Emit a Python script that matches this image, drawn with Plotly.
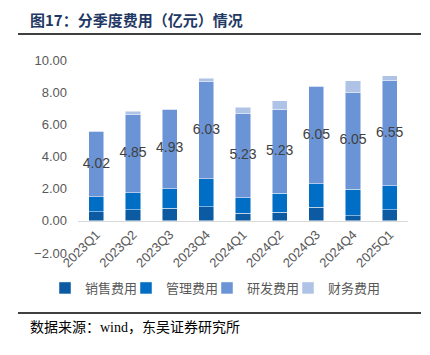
import plotly.graph_objects as go

quarters = ["2023Q1", "2023Q2", "2023Q3", "2023Q4", "2024Q1", "2024Q2", "2024Q3", "2024Q4", "2025Q1"]
sales = [0.58, 0.70, 0.79, 0.89, 0.48, 0.54, 0.85, 0.31, 0.70]
admin = [0.93, 1.06, 1.22, 1.74, 0.97, 1.18, 1.45, 1.64, 1.47]
rnd = [4.02, 4.85, 4.93, 6.03, 5.23, 5.23, 6.05, 6.05, 6.55]
finance = [0.08, 0.20, 0.03, 0.22, 0.37, 0.52, 0.04, 0.70, 0.31]
y_ticks = [-2, 0, 2, 4, 6, 8, 10]

names = ["销售费用", "管理费用", "研发费用", "财务费用"]
colors = ["#0B5AA2", "#006EC4", "#6B94D6", "#AEC3E6"]

W, H = 430, 355
ml, mr, mt, mb = 78, 22, 60, 102
ph = H - mt - mb
pw = W - ml - mr

def py(pix):
    return (H - mb - pix) / ph

def px(pix):
    return (pix - ml) / pw

fig = go.Figure()
for name, vals, c in zip(names, [sales, admin, rnd, finance], colors):
    fig.add_trace(go.Bar(
        x=quarters, y=vals, name=name,
        marker=dict(color=c, line=dict(color="rgba(255,255,255,0.6)", width=0.8)),
        hoverinfo="skip",
    ))

label_y = [s + a + r / 2 for s, a, r in zip(sales, admin, rnd)]
fig.add_trace(go.Scatter(
    x=quarters, y=label_y, mode="text",
    text=[f"{v:.2f}" for v in rnd],
    textfont=dict(family="Liberation Sans, Arial", size=14, color="#404040"),
    showlegend=False, hoverinfo="skip",
))

# invisible spacer legend entry so the last legend label is not clipped
fig.add_trace(go.Scatter(
    x=[None], y=[None], mode="markers", name=" ",
    marker=dict(color="rgba(0,0,0,0)", size=1, line=dict(width=0, color="rgba(0,0,0,0)")),
    showlegend=True, hoverinfo="skip",
))

ymin, ymax = -2, 10
zero_pos = (0 - ymin) / (ymax - ymin)

fig.update_layout(
    width=W, height=H,
    margin=dict(l=ml, r=mr, t=mt, b=mb, autoexpand=False),
    barmode="stack",
    bargap=0.59,
    paper_bgcolor="white",
    plot_bgcolor="white",
    font=dict(family="Liberation Sans, Arial, Noto Sans CJK SC", size=13, color="#595959"),
    xaxis=dict(
        anchor="free", position=zero_pos, automargin=False,
        showline=True, linecolor="#D9D9D9", linewidth=1,
        showgrid=False, ticks="", tickangle=-45,
        tickfont=dict(size=13, color="#595959"),
        range=[-0.5, len(quarters) - 0.5],
    ),
    yaxis=dict(
        range=[ymin, ymax], tickvals=y_ticks, tickformat=".2f", automargin=False,
        showgrid=False, zeroline=False, showline=False, ticks="",
        ticklabelstandoff=10,
        tickfont=dict(size=13, color="#595959"),
    ),
    legend=dict(
        orientation="h", xref="paper", x=px(45), xanchor="left",
        y=py(288), yanchor="middle",
        font=dict(family="Noto Sans CJK SC", size=13, color="#595959"),
        entrywidth=36, entrywidthmode="pixels",
        itemwidth=30, traceorder="normal",
        bgcolor="rgba(0,0,0,0)",
    ),
    showlegend=True,
)

fig.add_annotation(
    xref="paper", yref="paper", x=px(28), y=py(20), xanchor="left", yanchor="middle",
    text="<b>图17：分季度费用（亿元）情况</b>", showarrow=False,
    font=dict(family="Noto Sans CJK SC", size=15, color="#1F3864"),
)
fig.add_annotation(
    xref="paper", yref="paper", x=px(28), y=py(327), xanchor="left", yanchor="middle",
    text="数据来源：wind，东吴证券研究所", showarrow=False,
    font=dict(family="Liberation Serif, Noto Sans CJK SC", size=14, color="#000000"),
)
fig.add_shape(type="line", xref="paper", yref="paper",
              x0=px(18), x1=px(421), y0=py(34), y1=py(34),
              line=dict(color="#000000", width=1.5))
fig.add_shape(type="line", xref="paper", yref="paper",
              x0=px(18), x1=px(421), y0=py(313), y1=py(313),
              line=dict(color="#000000", width=1.5))

fig.write_html("out.html", config={"displayModeBar": False},
               post_script="document.body.style.margin='0';")
